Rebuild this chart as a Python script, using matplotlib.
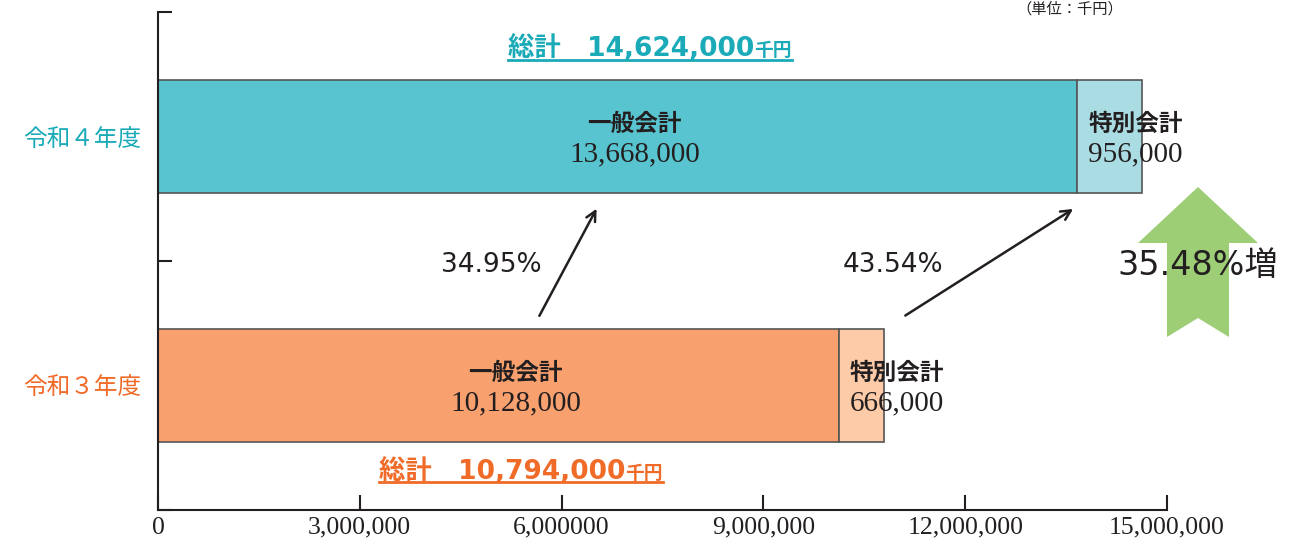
import matplotlib
matplotlib.use("Agg")
import matplotlib.pyplot as plt
from matplotlib.patches import Polygon
from matplotlib.lines import Line2D
from matplotlib.transforms import offset_copy

# data (千円)
years = ["令和３年度", "令和４年度"]
general = [10_128_000, 13_668_000]
special = [666_000, 956_000]
totals = [10_794_000, 14_624_000]
growth_general = "34.95%"
growth_special = "43.54%"
growth_total = "35.48%増"
xticks = [0, 3_000_000, 6_000_000, 9_000_000, 12_000_000, 15_000_000]
xtick_labels = ["0", "3,000,000", "6,000000", "9,000,000", "12,000,000", "15,000,000"]

main_colors = ["#F8A06E", "#58C4CF"]
sub_colors = ["#FDCBA8", "#AADDE3"]
text_colors = ["#F06A28", "#1AAAB8"]
ink = "#231F20"

CJK = ["Noto Sans CJK JP", "DejaVu Sans"]
LATIN = ["DejaVu Sans", "Noto Sans CJK JP"]
SERIF = ["Liberation Serif", "DejaVu Serif"]

fig = plt.figure(figsize=(13.13, 5.4), dpi=100)
ax = fig.add_axes([158 / 1313, 30 / 540, 1009 / 1313, 498 / 540])

ypos = [0.5, 1.5]
h = 0.45
ax.barh(ypos, general, height=h, color=main_colors, edgecolor="#555555", linewidth=1.2)
ax.barh(ypos, special, left=general, height=h, color=sub_colors, edgecolor="#555555", linewidth=1.2)

ax.set_xlim(0, 15_000_000)
ax.set_ylim(0, 2)
for s in ["top", "right"]:
    ax.spines[s].set_visible(False)
for s in ["left", "bottom"]:
    ax.spines[s].set_linewidth(1.5)
    ax.spines[s].set_color(ink)

ax.set_xticks(xticks)
ax.set_xticklabels(xtick_labels, family=SERIF, fontsize=18.5, color=ink)
ax.tick_params(axis="x", direction="in", length=11, width=1.5, color=ink, pad=5)
ax.set_yticks([0, 1, 2])
ax.set_yticklabels([])
ax.tick_params(axis="y", direction="in", length=10, width=1.5, color=ink)
ax.set_yticks(ypos, minor=True)
ax.set_yticklabels(years, minor=True, family=CJK, fontsize=17, fontweight="normal")
ax.tick_params(axis="y", which="minor", length=0, pad=12)
for lbl, c in zip(ax.get_yticklabels(minor=True), text_colors):
    lbl.set_color(c)

# labels inside the bars
for y, g, s in zip(ypos, general, special):
    ax.text(g / 2 + 250_000, y + 0.05, "一般会計", ha="center", va="center",
            family=CJK, fontsize=17, fontweight="bold", color=ink)
    ax.text(g / 2 + 250_000, y - 0.07, f"{g:,}", ha="center", va="center",
            family=SERIF, fontsize=21, color=ink)
    ax.text(g + 160_000, y + 0.05, "特別会計", ha="left", va="center",
            family=CJK, fontsize=17, fontweight="bold", color=ink)
    ax.text(g + 160_000, y - 0.07, f"{s:,}", ha="left", va="center",
            family=SERIF, fontsize=21, color=ink)

# totals with underline
fig.canvas.draw()
renderer = fig.canvas.get_renderer()
total_y = [0.125, 1.823]
for t, ty, c in zip(totals, total_y, text_colors):
    cx = t / 2
    t1 = ax.text(cx, ty, f"総計　{t:,}", ha="left", va="baseline",
                 family=LATIN, fontsize=19, fontweight="bold", color=c)
    t2 = ax.text(cx, ty, "千円", ha="left", va="baseline",
                 family=CJK, fontsize=13.5, fontweight="bold", color=c)
    w1 = t1.get_window_extent(renderer).width
    w2 = t2.get_window_extent(renderer).width
    shift = -(w1 + w2) / 2
    t1.set_transform(offset_copy(ax.transData, fig, x=shift, y=0, units="dots"))
    t2.set_transform(offset_copy(ax.transData, fig, x=shift + w1, y=0, units="dots"))
    px, py = ax.transData.transform((cx, ty))
    fig.add_artist(Line2D([px + shift, px + shift + w1 + w2], [py - 3.5, py - 3.5],
                          transform=None, color=c, linewidth=2))

# growth arrows
arrow_kw = dict(arrowstyle="->,head_length=0.7,head_width=0.35", color=ink, lw=1.8)
ax.annotate("", xy=(6_540_000, 1.22), xytext=(5_650_000, 0.77), arrowprops=arrow_kw)
ax.annotate("", xy=(13_640_000, 1.215), xytext=(11_075_000, 0.775), arrowprops=arrow_kw)
ax.text(4_950_000, 0.985, growth_general, ha="center", va="center",
        family=LATIN, fontsize=19, color=ink)
ax.text(10_930_000, 0.985, growth_special, ha="center", va="center",
        family=LATIN, fontsize=19, color=ink)

# big green up arrow (display pixels)
arrow_pts = [(1198, 353), (1258, 297), (1229, 297), (1229, 203), (1198, 222),
             (1167, 203), (1167, 297), (1138, 297)]
fig.add_artist(Polygon(arrow_pts, closed=True, transform=None,
                       facecolor="#9DCE76", edgecolor="none", zorder=1))
fig.text(1198 / 1313, 274 / 540, growth_total, ha="center", va="center",
         family=LATIN, fontsize=24, color=ink, zorder=3)

fig.text(1070 / 1313, 1 - 1 / 540, "（単位：千円）", ha="center", va="top",
         family=CJK, fontsize=11, color=ink)

fig.savefig("out.png", dpi=100)
